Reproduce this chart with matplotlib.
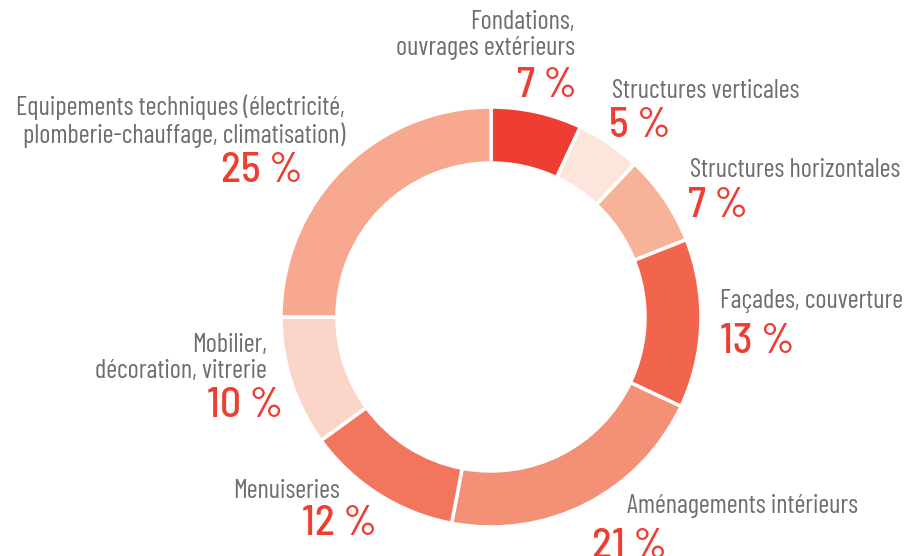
import matplotlib
matplotlib.use("Agg")
import matplotlib.pyplot as plt
from matplotlib import font_manager

names = {f.name for f in font_manager.fontManager.ttflist}
LFONT = next((n for n in ["Barlow Condensed", "Barlow Semi Condensed", "Archivo Narrow", "DejaVu Sans"] if n in names))
PFONT = next((n for n in ["Barlow Semi Condensed", "Barlow Condensed", "Archivo Narrow", "DejaVu Sans"] if n in names))
plt.rcParams['font.family'] = [LFONT, 'DejaVu Sans']

categories = ["Fondations,\nouvrages extérieurs", "Structures verticales",
              "Structures horizontales", "Façades, couverture",
              "Aménagements intérieurs", "Menuiseries",
              "Mobilier,\ndécoration, vitrerie",
              "Equipements techniques (électricité,\nplomberie-chauffage, climatisation)"]
values = [7, 5, 7, 13, 21, 12, 10, 25]
pct_labels = ["7 %", "5 %", "7 %", "13 %", "21 %", "12 %", "10 %", "25 %"]
colors = ["#EE3E33", "#FCE6DC", "#F7B29A", "#F0654C", "#F39075", "#F2765D", "#FBD5C8", "#F7A88E"]

W, H = 907, 556
fig = plt.figure(figsize=(W/100, H/100), dpi=100)
ax = fig.add_axes([0, 0, 1, 1])
cx, cy = 491, H - 317
ax.pie(values, colors=colors, startangle=90, counterclock=False,
       center=(cx, cy), radius=210, frame=True,
       wedgeprops=dict(width=56, edgecolor='white', linewidth=2.5))
ax.set_xlim(0, W)
ax.set_ylim(0, H)
ax.set_aspect('equal')
ax.axis('off')

GRAY = "#6D6E71"
RED = "#EE3E33"
LFS = 19
PFS = 30

# (label x, label last-line baseline y, pct x, pct baseline y, ha) in pixel coords (y from top)
pos = [
    (575, 55, 577, 97, 'right'),
    (612, 98, 609, 137, 'left'),
    (690, 177, 688, 217, 'left'),
    (720, 308, 720, 353, 'left'),
    (627, 513, 592, 558, 'left'),
    (340, 498, 377, 535, 'right'),
    (267, 378, 283, 417, 'right'),
    (345, 143, 303, 182, 'right'),
]
for cat, pl, (lx, ly, px, py, ha) in zip(categories, pct_labels, pos):
    ax.text(lx, H - ly, cat, color=GRAY, fontsize=LFS, ha=ha, va='baseline',
            multialignment=ha, linespacing=1.1)
    ax.text(px, H - py, pl, color=RED, fontsize=PFS, ha=ha, va='baseline',
            family=[PFONT, 'DejaVu Sans'], fontweight='medium')

fig.savefig("out.png", dpi=100)
